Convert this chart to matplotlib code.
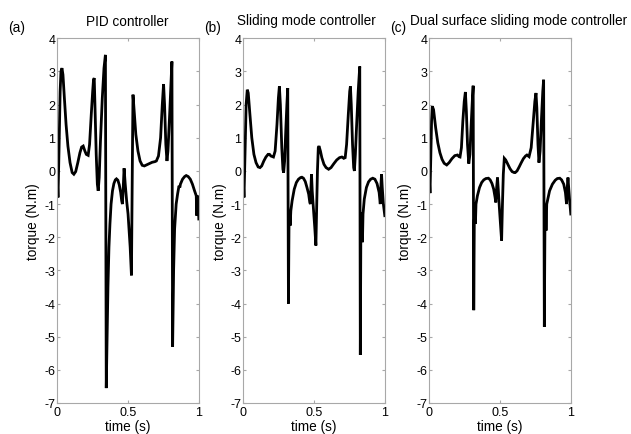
import matplotlib
matplotlib.use("Agg")
import matplotlib.pyplot as plt

plt.rcParams['font.family'] = ['Liberation Sans', 'DejaVu Sans']
plt.rcParams['axes.unicode_minus'] = False

# ---- data (time in s, torque in N.m) ----
t_pid = [0.0, 0.005, 0.012, 0.02, 0.026, 0.033, 0.04, 0.05, 0.062, 0.075, 0.09, 0.105, 0.117,
         0.13, 0.145, 0.16, 0.172, 0.183, 0.195, 0.205, 0.218, 0.228, 0.24, 0.25, 0.256, 0.261,
         0.266, 0.275, 0.283, 0.289, 0.296, 0.305, 0.318, 0.33, 0.340, 0.346, 0.352, 0.358,
         0.365, 0.372, 0.38, 0.39, 0.40, 0.41, 0.418, 0.428, 0.438, 0.448, 0.455, 0.46, 0.466,
         0.472, 0.48, 0.49, 0.50, 0.515, 0.524, 0.528, 0.532, 0.535, 0.545, 0.555, 0.57, 0.585,
         0.60, 0.615, 0.63, 0.65, 0.67, 0.69, 0.70, 0.715, 0.73, 0.742, 0.751, 0.758, 0.767,
         0.775, 0.782, 0.795, 0.810, 0.815, 0.822, 0.829, 0.84, 0.85, 0.86, 0.866, 0.87, 0.885,
         0.90, 0.911, 0.925, 0.94, 0.955, 0.97, 0.982, 0.986, 0.99, 0.995, 1.0]
y_pid = [-0.25, -0.8, 0.6, 2.4, 3.0, 3.1, 2.9, 2.2, 1.4, 0.75, 0.25, -0.05, -0.1,
         -0.02, 0.25, 0.55, 0.72, 0.75, 0.6, 0.5, 0.47, 0.8, 1.7, 2.4, 2.75, 2.8,
         2.0, 0.5, -0.4, -0.6, -0.2, 0.9, 2.2, 3.1, 3.5, -6.55, -5.0, -3.5,
         -2.3, -1.6, -1.0, -0.6, -0.38, -0.27, -0.24, -0.28, -0.42, -0.65, -0.9, -1.0, -0.5,
         0.08, -0.4, -0.9, -1.3, -2.3, -3.15, -1.0, 1.0, 2.3, 1.7, 1.1, 0.6, 0.3,
         0.17, 0.15, 0.18, 0.22, 0.26, 0.28, 0.3, 0.45, 1.0, 2.0, 2.62, 2.0, 0.8,
         0.3, 0.6, 1.8, 3.3, -5.3, -3.0, -1.75, -1.0, -0.7, -0.45, -0.5, -0.4, -0.25,
         -0.17, -0.14, -0.17, -0.25, -0.4, -0.6, -0.75, -1.35, -0.75, -0.8, -1.45]

t_smc = [0.0, 0.005, 0.012, 0.02, 0.028, 0.035, 0.045, 0.06, 0.075, 0.09, 0.105, 0.118, 0.13,
         0.145, 0.16, 0.175, 0.185, 0.195, 0.213, 0.225, 0.238, 0.248, 0.255, 0.262, 0.272,
         0.28, 0.285, 0.292, 0.30, 0.308, 0.314, 0.319, 0.323, 0.327, 0.331, 0.336, 0.345,
         0.36, 0.375, 0.39, 0.405, 0.414, 0.425, 0.438, 0.45, 0.462, 0.47, 0.474, 0.478, 0.482,
         0.487, 0.495, 0.505, 0.513, 0.518, 0.524, 0.53, 0.535, 0.545, 0.555, 0.57, 0.585,
         0.603, 0.62, 0.64, 0.66, 0.68, 0.697, 0.71, 0.72, 0.73, 0.742, 0.752, 0.757, 0.763,
         0.772, 0.78, 0.785, 0.792, 0.80, 0.812, 0.823, 0.827, 0.831, 0.836, 0.842, 0.846,
         0.855, 0.87, 0.885, 0.90, 0.915, 0.93, 0.945, 0.96, 0.968, 0.973, 0.977, 0.982, 0.99, 1.0]
y_smc = [-0.3, -0.8, 0.5, 2.0, 2.45, 2.35, 1.8, 1.0, 0.5, 0.25, 0.12, 0.1, 0.15,
         0.3, 0.42, 0.5, 0.5, 0.45, 0.42, 0.6, 1.4, 2.2, 2.55, 2.0, 0.7,
         0.05, -0.05, 0.3, 1.2, 2.0, 2.5, -4.0, -1.6, -1.2, -1.65, -1.2, -0.9,
         -0.55, -0.35, -0.25, -0.2, -0.19, -0.22, -0.32, -0.5, -0.7, -0.95, -1.0, -0.5, -0.1,
         -0.6, -1.1, -1.7, -2.25, -1.2, 0.0, 0.7, 0.75, 0.6, 0.4, 0.2, 0.1,
         0.05, 0.1, 0.22, 0.33, 0.4, 0.42, 0.38, 0.4, 0.8, 1.7, 2.4, 2.55, 2.0,
         0.8, 0.1, 0.0, 0.5, 1.3, 2.4, 3.15, -5.55, -1.6, -1.25, -2.15, -1.3,
         -0.85, -0.5, -0.33, -0.25, -0.22, -0.25, -0.38, -0.65, -1.0, -0.4, -0.1, -0.5, -1.0, -1.35]

t_dsmc = [0.0, 0.005, 0.01, 0.016, 0.021, 0.03, 0.045, 0.06, 0.075, 0.09, 0.105, 0.123, 0.14,
          0.16, 0.18, 0.199, 0.21, 0.217, 0.227, 0.237, 0.247, 0.255, 0.262, 0.27, 0.279,
          0.287, 0.296, 0.305, 0.310, 0.314, 0.318, 0.322, 0.326, 0.33, 0.34, 0.355, 0.37,
          0.385, 0.40, 0.418, 0.43, 0.443, 0.455, 0.465, 0.47, 0.476, 0.482, 0.488, 0.495,
          0.503, 0.511, 0.517, 0.523, 0.53, 0.54, 0.555, 0.57, 0.585, 0.60, 0.607, 0.62, 0.635,
          0.65, 0.665, 0.68, 0.69, 0.705, 0.72, 0.735, 0.746, 0.754, 0.76, 0.768, 0.775, 0.783,
          0.793, 0.802, 0.808, 0.813, 0.817, 0.821, 0.825, 0.83, 0.835, 0.85, 0.87, 0.89,
          0.905, 0.922, 0.935, 0.95, 0.962, 0.97, 0.975, 0.98, 0.985, 0.992, 1.0]
y_dsmc = [-0.2, -0.67, 0.3, 1.5, 1.95, 1.85, 1.3, 0.85, 0.55, 0.35, 0.23, 0.18, 0.25,
          0.37, 0.46, 0.48, 0.43, 0.42, 0.7, 1.5, 2.1, 2.38, 1.8, 0.8, 0.22,
          0.5, 1.4, 2.2, 2.57, -4.2, -1.5, -1.1, -1.6, -1.0, -0.75, -0.5, -0.35,
          -0.27, -0.23, -0.22, -0.27, -0.38, -0.55, -0.8, -0.95, -0.5, -0.2, -0.6, -1.1,
          -1.6, -2.1, -1.0, -0.1, 0.38, 0.33, 0.2, 0.07, -0.02, -0.05, -0.05, 0.0, 0.12,
          0.25, 0.37, 0.45, 0.48, 0.43, 0.7, 1.5, 2.1, 2.35, 1.9, 0.8, 0.25, 0.6,
          1.6, 2.4, 2.75, -4.7, -1.8, -1.0, -1.8, -1.0, -0.9, -0.6, -0.4, -0.28,
          -0.23, -0.22, -0.27, -0.4, -0.65, -1.0, -0.5, -0.2, -0.5, -0.9, -1.3]

titles = ["PID controller", "Sliding mode controller", "Dual surface sliding mode controller"]
panel_tags = ["(a)", "(b)", "(c)"]
xticks = [0, 0.5, 1]
xticklabels = ["0", "0.5", "1"]
yticks = list(range(-7, 5))
xlabel = "time (s)"
ylabel = "torque (N.m)"

# ---- layout (pixels of a 631x435 canvas) ----
W, H = 631, 435
fig = plt.figure(figsize=(W / 100, H / 100), dpi=100)
ax_left_px = [57.3, 243.3, 429.3]
ax_w_px = 141.5
ax_top_px, ax_bot_px = 39.3, 404.0
title_cx_px = [127.5, 306.5, 519.0]
tag_x_px = [8, 204, 390]
ylab_x_px = [33, 220, 405]

grey = '#a8a8a8'
series = [(t_pid, y_pid), (t_smc, y_smc), (t_dsmc, y_dsmc)]
for i, (tt, yy) in enumerate(series):
    ax = fig.add_axes([ax_left_px[i] / W, 1 - ax_bot_px / H, ax_w_px / W,
                       (ax_bot_px - ax_top_px) / H])
    ax.plot(tt, yy, color='black', lw=2.0, solid_joinstyle='miter')
    ax.set_xlim(0, 1)
    ax.set_ylim(-7, 4)
    ax.set_xticks(xticks)
    ax.set_xticklabels(xticklabels)
    ax.set_yticks(yticks)
    for s in ax.spines.values():
        s.set_color(grey)
        s.set_linewidth(0.8)
    ax.tick_params(direction='in', length=2.5, width=0.8, color=grey,
                   top=True, right=True, labelsize=9.0, labelcolor='black')
    ax.tick_params(axis='x', pad=2.0)
    ax.tick_params(axis='y', pad=1.5)
    fig.text(title_cx_px[i] / W, 1 - 25.5 / H, titles[i], ha='center', va='baseline',
             fontsize=9.8)
    fig.text(tag_x_px[i] / W, 1 - 32 / H, panel_tags[i], ha='left', va='baseline',
             fontsize=9.8)
    fig.text(ylab_x_px[i] / W, 1 - 221.7 / H, ylabel, ha='center', va='center',
             rotation=90, fontsize=9.8)
    fig.text((ax_left_px[i] + ax_w_px / 2) / W, 1 - 431 / H, xlabel, ha='center',
             va='baseline', fontsize=9.8)

fig.savefig("out.png", dpi=100)
